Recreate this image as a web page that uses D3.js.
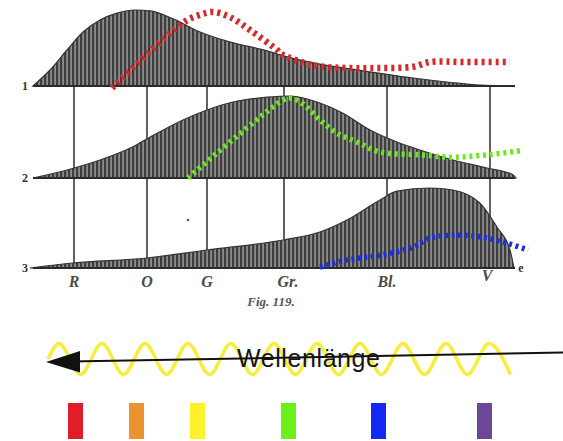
<!DOCTYPE html>
<html><head><meta charset="utf-8">
<script src="https://cdn.jsdelivr.net/npm/d3@7"></script>
<style>body{margin:0;background:#fff}</style>
</head><body><svg id="c" width="563" height="441"></svg>
<script>
// ---- data (x: spectral position 0..100, y: relative intensity 0..100) ----
const panelLabels = ["1", "2", "3"];
const spectralLabels = ["R", "O", "G", "Gr.", "Bl.", "V"];
const spectralPos = [8.8, 23.4, 35.4, 50.8, 71.4, 92];

const curve1X = [0.6, 4, 7.4, 10.6, 14, 17.4, 21, 24, 28.6, 34, 40.6, 47.4, 50, 56.6, 66.6, 76.6, 83.4, 90, 97];
const curve1Y = [0, 20, 45, 67.5, 82.5, 91, 95, 94, 84, 67.5, 54, 44, 39, 29, 19, 10, 5, 1, 0];
const curve2X = [0.6, 7.4, 14, 20.6, 24, 30.6, 35.4, 40.6, 47.4, 52, 58, 62.6, 68, 73.4, 78, 84.6, 91.4, 96.6, 97.2];
const curve2Y = [0, 10, 22.5, 39, 51, 72.5, 85, 95, 101, 102.5, 93.75, 81, 60, 45, 35, 22.5, 12.5, 4, 0];
const curve3X = [0, 8.6, 23.4, 35.4, 50.6, 58, 63.4, 70, 73.4, 80, 84.6, 90, 93.4, 96, 96.8];
const curve3Y = [0, 6.25, 12.5, 22.5, 35, 45, 60, 85, 96, 100, 97.5, 81, 51, 22.5, 0];

const redX = [16.4, 30.6, 34, 36.6, 40, 44, 49.4, 50, 56.6, 63.4, 70, 76.6, 80, 86.6, 96];
const redY = [-2.5, 79, 89, 92.5, 86, 70, 45, 41, 26, 22.5, 22.5, 24, 30, 30, 30];
const greenX = [31.6, 50.6, 52, 54.6, 58, 61.4, 65.4, 70, 78, 84.6, 91.4, 98];
const greenY = [0, 97.5, 100, 92.5, 72.5, 56, 45, 32.5, 29, 26, 29, 34];
const blueX = [58, 63.4, 70, 76.6, 80, 84.6, 90, 95.4, 99.6];
const blueY = [1, 10, 16, 26, 37.5, 41, 39, 31, 22.5];

const waveX = [3.6, 5.8, 10.1, 14.4, 18.7, 23, 27.3, 31.6, 35.9, 40.2, 44.5, 48.8, 53.1, 57.4, 61.7, 66, 70.3, 74.6, 78.9, 83.2, 87.5, 91.8, 96.1];
const waveY = [0, 1, -1, 1, -1, 1, -1, 1, -1, 1, -1, 1, -1, 1, -1, 1, -1, 1, -1, 1, -1, 1, -1];
const waveLabel = "Wellenlänge";

const barNames = ["Rot", "Orange", "Gelb", "Grün", "Blau", "Violett"];
const barPos = [9.1, 21.3, 33.5, 51.7, 69.7, 90.9];
const barColors = ["#e01e2a", "#ea9330", "#fdf22a", "#6cf01a", "#1428f5", "#6b4795"];
const figCaption = "Fig. 119.";

// ---- layout ----
const svg = d3.select("#c");
const x = d3.scaleLinear([0, 100], [30, 530]);
const baselines = [86, 178, 268];
const ys = baselines.map(b => d3.scaleLinear([0, 100], [b, b - 80]));

const defs = svg.append("defs");
const pat = defs.append("pattern").attr("id", "hatch").attr("patternUnits", "userSpaceOnUse")
  .attr("width", 4).attr("height", 4);
pat.append("rect").attr("width", 4).attr("height", 4).attr("fill", "#8c8c8c");
pat.append("rect").attr("x", 0).attr("width", 2.2).attr("height", 4).attr("fill", "#3e3e3e");

// vertical reference lines
svg.append("g").selectAll("line").data(spectralPos).join("line")
  .attr("x1", d => x(d)).attr("x2", d => x(d))
  .attr("y1", baselines[0]).attr("y2", baselines[2])
  .attr("stroke", "#3a3a3a").attr("stroke-width", 1.6);

const zip = (a, b) => a.map((v, i) => [v, b[i]]);
const curves = [zip(curve1X, curve1Y), zip(curve2X, curve2Y), zip(curve3X, curve3Y)];

curves.forEach((c, i) => {
  const area = d3.area().x(d => x(d[0])).y0(baselines[i]).y1(d => ys[i](d[1])).curve(d3.curveMonotoneX);
  svg.append("path").attr("d", area(c)).attr("fill", "url(#hatch)")
    .attr("stroke", "#333").attr("stroke-width", 1.2);
  // baseline
  svg.append("line").attr("x1", x(0.6)).attr("x2", x(97)).attr("y1", baselines[i]).attr("y2", baselines[i])
    .attr("stroke", "#2a2a2a").attr("stroke-width", 2);
  svg.append("text").attr("x", 25).attr("y", baselines[i] + 4).attr("text-anchor", "middle")
    .attr("font-family", "Liberation Serif").attr("font-weight", "bold").attr("font-size", 12)
    .attr("fill", "#333").text(panelLabels[i]);
});

// spectral letters
svg.append("g").selectAll("text").data(spectralLabels).join("text")
  .attr("x", (d, i) => x(spectralPos[i]) + (i === 3 ? 4 : i === 5 ? -3 : 0))
  .attr("y", (d, i) => i === 5 ? 281 : 287)
  .attr("text-anchor", "middle").attr("font-family", "Liberation Serif")
  .attr("font-style", "italic").attr("font-weight", "bold").attr("font-size", 16)
  .attr("fill", "#4a4a4a").text(d => d);
svg.append("text").attr("x", 521).attr("y", 272).attr("text-anchor", "middle")
  .attr("font-family", "Liberation Serif").attr("font-weight", "bold").attr("font-size", 12)
  .attr("fill", "#333").text("e");
svg.append("text").attr("x", 271).attr("y", 306).attr("text-anchor", "middle")
  .attr("font-family", "Liberation Serif").attr("font-style", "italic").attr("font-weight", "bold")
  .attr("font-size", 13).attr("fill", "#555").text(figCaption);
svg.append("circle").attr("cx", 188).attr("cy", 220).attr("r", 1.3).attr("fill", "#555");

// dotted overlay lines
const overlays = [
  {pts: zip(redX, redY), y: ys[0], color: "#d8282c", w: 6.5, dash: "3,4"},
  {pts: zip(greenX, greenY), y: ys[1], color: "#6ee81e", w: 5.5, dash: "3,3.8"},
  {pts: zip(blueX, blueY), y: ys[2], color: "#1a30e6", w: 5.5, dash: "3,3.5"}
];
overlays.forEach(o => {
  const line = d3.line().x(d => x(d[0])).y(d => o.y(d[1])).curve(d3.curveCatmullRom);
  svg.append("path").attr("d", line(o.pts)).attr("fill", "none").attr("stroke", o.color)
    .attr("stroke-width", o.w).attr("stroke-dasharray", o.dash);
});

// wave
const wy = d3.scaleLinear([-1, 1], [374.5, 343.5]);
const waveLine = d3.line().x(d => x(d[0])).y(d => wy(d[1])).curve(d3.curveMonotoneX);
svg.append("path").attr("d", waveLine(zip(waveX, waveY))).attr("fill", "none")
  .attr("stroke", "#f6ee3c").attr("stroke-width", 3.5);

svg.append("text").attr("x", 237).attr("y", 367).attr("font-family", "Liberation Sans")
  .attr("font-size", 25).attr("fill", "#151515").attr("textLength", 143).text(waveLabel);

// arrow
svg.append("line").attr("x1", 563).attr("y1", 352.5).attr("x2", 70).attr("y2", 361.6)
  .attr("stroke", "#111").attr("stroke-width", 2);
svg.append("path").attr("d", "M46,362 L80,351 L80,372.5 Z").attr("fill", "#111");

// colour bars
svg.append("g").selectAll("rect").data(barNames).join("rect")
  .attr("x", (d, i) => x(barPos[i]) - 7.5).attr("y", 403).attr("width", 15).attr("height", 36)
  .attr("fill", (d, i) => barColors[i]);
</script></body></html>
